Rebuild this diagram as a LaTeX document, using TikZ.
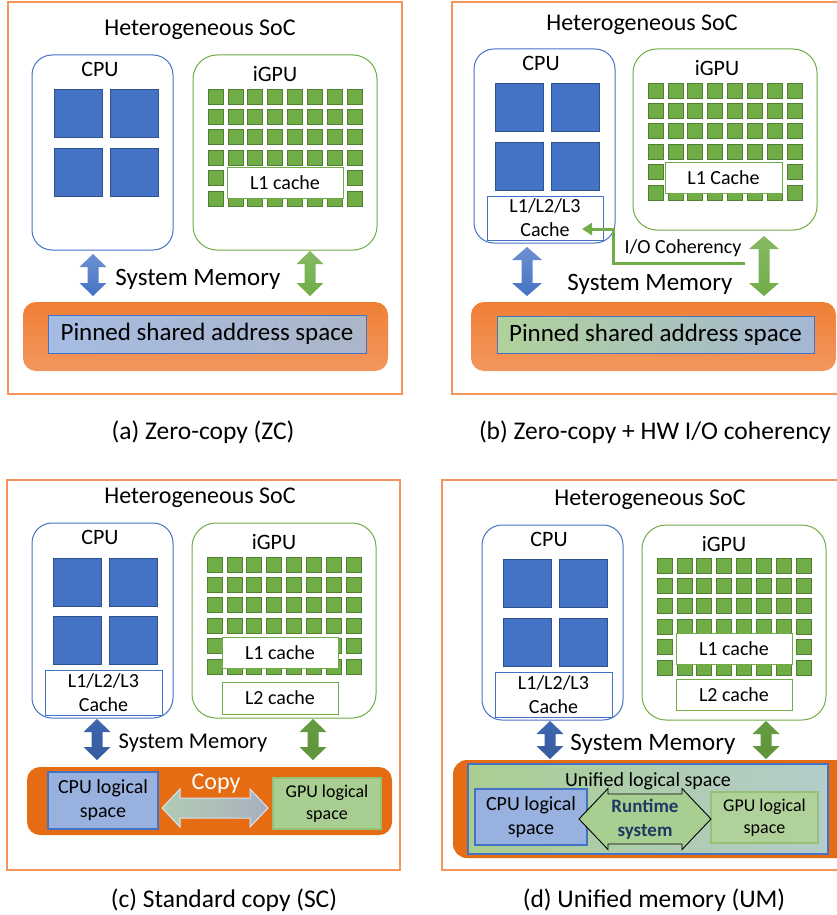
\documentclass[tikz,border=0pt]{standalone}
\usepackage{fontspec}
\setmainfont{Carlito}
\usetikzlibrary{arrows.meta}
\definecolor{cpublue}{HTML}{4472C4}
\definecolor{cpudark}{HTML}{2F528F}
\definecolor{gpugreen}{HTML}{70AD47}
\definecolor{gpudark}{HTML}{507E32}
\definecolor{frameor}{HTML}{F3955A}
\definecolor{memor}{HTML}{E56C12}
\definecolor{memtop}{HTML}{F07F35}
\definecolor{membot}{HTML}{F3975F}
\definecolor{rtblue}{HTML}{203864}

% GPU core array: 8 columns x 6 rows starting at (#1,#2)
\newcommand{\smgrid}[2]{%
  \foreach \i in {0,...,7}{\foreach \j in {0,...,5}{%
    \draw[smcore] ({#1+\i*19.9},{#2+\j*20.4}) rectangle ++(15,15);}}}
% four CPU cores: column starts #1,#2 and row starts #3,#4
\newcommand{\cpucores}[4]{%
  \foreach \cx in {#1,#2}{\foreach \cy in {#3,#4}{%
    \draw[cpucore] (\cx,\cy) rectangle ++(48.5,48.5);}}}
% vertical block double arrow: centre x, top, bottom, half head width, shading
\newcommand{\vdarrow}[5]{%
  \shade[#5] (#1,#2) -- ({#1+#4},{#2+13}) -- ({#1+5.5},{#2+13}) -- ({#1+5.5},{#3-13})
    -- ({#1+#4},{#3-13}) -- (#1,#3) -- ({#1-#4},{#3-13}) -- ({#1-5.5},{#3-13})
    -- ({#1-5.5},{#2+13}) -- ({#1-#4},{#2+13}) -- cycle;}
% horizontal block double arrow: left tip, right tip, centre y, half head, half shaft, head length, style
\newcommand{\hdarrow}[7]{%
  \path[#7] (#1,#3) -- ({#1+#6},{#3-#4}) -- ({#1+#6},{#3-#5}) -- ({#2-#6},{#3-#5})
    -- ({#2-#6},{#3-#4}) -- (#2,#3) -- ({#2-#6},{#3+#4}) -- ({#2-#6},{#3+#5})
    -- ({#1+#6},{#3+#5}) -- ({#1+#6},{#3+#4}) -- cycle;}

\tikzset{
  panelframe/.style={draw=frameor, line width=1.3},
  cpubox/.style={draw=cpublue, line width=1, rounded corners=20},
  gpubox/.style={draw=gpugreen, line width=1, rounded corners=24},
  cpucore/.style={fill=cpublue, draw=cpudark, line width=0.8},
  smcore/.style={fill=gpugreen, draw=gpudark, line width=0.8},
  lab/.style={inner sep=0, text=black},
  title/.style={lab, font=\fontsize{24}{28}\selectfont},
  unitlab/.style={lab, font=\fontsize{22}{26}\selectfont},
  sysmem/.style={lab, font=\fontsize{25}{30}\selectfont},
  caption/.style={lab, font=\fontsize{25.5}{30}\selectfont},
  gcache/.style={fill=white, draw=gpugreen, line width=1, inner sep=0,
    font=\fontsize{20}{24}\selectfont},
  ccache/.style={fill=white, draw=cpublue, line width=1, inner sep=0, align=center,
    font=\fontsize{20}{24}\selectfont},
  bluearrow/.style={top color=cpublue!78!white, bottom color=cpublue},
  greenarrow/.style={top color=gpugreen!85!white, bottom color=gpugreen},
  darkblue/.style={top color=cpublue!90!black, bottom color=cpublue!80!black},
  darkgreen/.style={top color=gpugreen!90!black, bottom color=gpugreen!85!black},
  logcpu/.style={fill=cpublue!55!white, draw=cpublue, line width=1.3, inner sep=0,
    align=center, font=\fontsize{20}{24}\selectfont},
  loggpu/.style={fill=gpugreen!60!white, draw=gpugreen!75!white, line width=1.3, inner sep=0,
    align=center, font=\fontsize{18}{22}\selectfont},
}

\begin{document}
\begin{tikzpicture}[x=1pt, y=-1pt]
\clip (0,0) rectangle (837,915);
\fill[white] (0,0) rectangle (837,915);

%% ---------------- (a) Zero-copy ----------------
\draw[panelframe] (8,2) rectangle (402,394);
\node[title] (titleA) at (200,30) {Heterogeneous SoC};
\draw[cpubox] (32,55) rectangle (173,250);
\node[unitlab] (cpuA) at (100,69) {CPU};
\cpucores{54}{110}{89}{148}
\draw[gpubox] (193,55) rectangle (377,250);
\node[unitlab] (gpuA) at (275,74) {iGPU};
\smgrid{208}{89}
\node[gcache, minimum width=116, minimum height=31] (l1A) at (285,182.5) {L1 cache};
\vdarrow{93}{254}{296}{13.5}{bluearrow}
\vdarrow{310}{251}{296}{13.5}{greenarrow}
\node[sysmem] (smA) at (198,279) {System Memory};
\shade[top color=memtop, bottom color=membot, rounded corners=13] (23,302) rectangle (388,371);
\node[inner sep=0, minimum width=318, minimum height=38, draw=cpublue, line width=1,
  left color=cpublue!48!white, right color=cpublue!40!gray!55!white,
  font=\fontsize{25}{30}\selectfont] (memA) at (207,334) {Pinned shared address space};
\node[caption] (capA) at (203,432) {(a) Zero-copy (ZC)};

%% ---------------- (b) Zero-copy + HW I/O coherency ----------------
\draw[panelframe] (452,2) rectangle (850,394);
\node[title] (titleB) at (642,25) {Heterogeneous SoC};
\draw[cpubox] (474,49) rectangle (615,243);
\node[unitlab] (cpuB) at (541,63) {CPU};
\cpucores{495}{551}{83}{142}
\node[ccache, minimum width=116, minimum height=44] (cacheB) at (545,218) {L1/L2/L3\\Cache};
\draw[gpubox] (633,49) rectangle (817,230);
\node[unitlab] (gpuB) at (717,68) {iGPU};
\smgrid{648}{83}
\node[gcache, minimum width=117, minimum height=31] (l1B) at (723.5,177.5) {L1 Cache};
\coordinate (ioS) at (745,263);
\coordinate (ioT) at (582,229);
\draw[gpugreen, line width=3, -{Triangle[width=12pt,length=10pt]}]
  (ioS) -| (613,229) -- (ioT);
\node[lab, font=\fontsize{20}{24}\selectfont] (ioB) at (683,248) {I/O Coherency};
\vdarrow{527}{247}{296}{15}{bluearrow}
\vdarrow{764}{236}{296}{15}{greenarrow}
\node[sysmem] (smB) at (650,284) {System Memory};
\shade[top color=memtop, bottom color=membot, rounded corners=13] (471,302) rectangle (836,371);
\node[inner sep=0, minimum width=317, minimum height=37, draw=cpublue, line width=1,
  left color=gpugreen!55!white, right color=cpublue!45!white!85!gray,
  font=\fontsize{25}{30}\selectfont] (memB) at (655.5,334.5) {Pinned shared address space};
\node[caption] (capB) at (655,432) {(b) Zero-copy + HW I/O coherency};

%% ---------------- (c) Standard copy ----------------
\draw[panelframe] (7,480) rectangle (400,870);
\node[title] (titleC) at (200,498) {Heterogeneous SoC};
\draw[cpubox] (32,523) rectangle (173,718);
\node[unitlab] (cpuC) at (100,537) {CPU};
\cpucores{53}{109}{558}{616}
\node[ccache, minimum width=117, minimum height=45] (cacheC) at (103.5,692.5) {L1/L2/L3\\Cache};
\draw[gpubox] (192,523) rectangle (376,718);
\node[unitlab] (gpuC) at (274,542) {iGPU};
\smgrid{207}{557}
\node[gcache, minimum width=116, minimum height=31] (l1C) at (280,652.5) {L1 cache};
\node[gcache, minimum width=116, minimum height=32] (l2C) at (280,698) {L2 cache};
\vdarrow{97}{719}{760}{13.5}{darkblue}
\vdarrow{313}{719}{760}{13.5}{darkgreen}
\node[sysmem, font=\fontsize{22.5}{27}\selectfont] (smC) at (193,743) {System Memory};
\fill[memor, rounded corners=13] (27,767) rectangle (392,835);
\node[logcpu, minimum width=110, minimum height=57] (cpulogC) at (103,800.5) {CPU logical\\space};
\node[loggpu, minimum width=108, minimum height=51] (gpulogC) at (327,803.5) {GPU logical\\space};
\hdarrow{162}{268}{808}{19}{10}{18}{shade, left color=green!20!gray!50!white, right color=cpublue!30!gray!60!white, draw=white!80!cpublue, line width=1}
\node[lab, text=white, font=\fontsize{24}{28}\selectfont] (copyC) at (216,784) {Copy};
\node[caption] (capC) at (224,900) {(c) Standard copy (SC)};

%% ---------------- (d) Unified memory ----------------
\draw[panelframe] (442,480) rectangle (850,870);
\node[title] (titleD) at (650,500) {Heterogeneous SoC};
\draw[cpubox] (482,525) rectangle (623,720);
\node[unitlab] (cpuD) at (549,539) {CPU};
\cpucores{503}{559}{559}{618}
\node[ccache, minimum width=117, minimum height=45] (cacheD) at (553.5,694.5) {L1/L2/L3\\Cache};
\draw[gpubox] (642,525) rectangle (826,720);
\node[unitlab] (gpuD) at (724,544) {iGPU};
\smgrid{657}{558}
\node[gcache, minimum width=116, minimum height=31] (l1D) at (734,648.5) {L1 cache};
\node[gcache, minimum width=116, minimum height=31] (l2D) at (734,694.5) {L2 cache};
\vdarrow{550}{721}{759}{13.5}{darkblue}
\vdarrow{766}{721}{759}{13.5}{darkgreen}
\node[sysmem] (smD) at (653,744) {System Memory};
\fill[memor, rounded corners=14] (453,760) rectangle (860,858);
\shade[left color=gpugreen!60!white, right color=gpugreen!45!cpublue!45!white, draw=cpublue, line width=1.5]
  (468,764) rectangle (828,854);
\node[lab, font=\fontsize{20}{24}\selectfont] (uniD) at (648,781) {Unified logical space};
\node[logcpu, minimum width=112, minimum height=56] (cpulogD) at (531,817) {CPU logical\\space};
\node[loggpu, fill=gpugreen!55!white, minimum width=107, minimum height=51] (gpulogD) at (764.5,817.5) {GPU logical\\space};
\hdarrow{579}{711}{819}{30.5}{25}{29}{fill=gpugreen!60!white, draw=black, line width=0.9}
\node[lab, text=rtblue, align=center, font=\bfseries\fontsize{19}{24}\selectfont] (rtD) at (645,819) {Runtime\\system};
\node[caption] (capD) at (654,900) {(d) Unified memory (UM)};
\end{tikzpicture}
\end{document}
